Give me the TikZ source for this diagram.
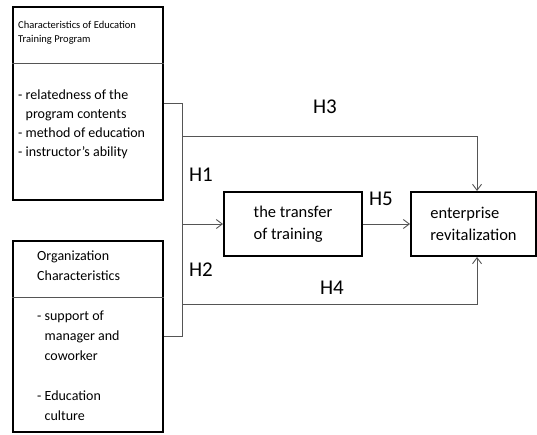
\documentclass[tikz,border=0pt]{standalone}
\usepackage{fontspec}
\setmainfont{Carlito}
\usetikzlibrary{arrows.meta,positioning,calc}
\definecolor{linegray}{RGB}{85,85,85}

\begin{document}
\begin{tikzpicture}[
    x=1pt, y=-1pt,
    panel/.style={rectangle, draw=black, line width=2pt, inner sep=0pt},
    stage/.style={rectangle, draw=black, line width=2pt, align=left,
                  font=\fontsize{16.5}{22}\selectfont},
    headtxt/.style={anchor=north west, inner sep=0pt, align=left},
    bodytxt/.style={anchor=north west, inner sep=0pt, align=left,
                    font=\fontsize{14}{19}\selectfont},
    hyp/.style={inner sep=0pt, font=\fontsize{21}{24}\selectfont},
    conn/.style={draw=linegray, line width=0.9pt},
    arr/.style={conn, -{Straight Barb[length=6pt,width=9pt]}}
]
\useasboundingbox (0,0) rectangle (537,434);

% Program panel
\node[panel, minimum width=150, minimum height=193] (prog) at (88,103.5) {};
\draw[conn, line width=0.8pt] (prog.west |- 0,63) -- (prog.east |- 0,63);
\node[headtxt, font=\fontsize{10.5}{14}\selectfont] (proghead) at (18,21)
    {Characteristics of Education\\Training Program};
\node[bodytxt] (progbody) at (18,90)
    {- relatedness of the\\\hphantom{- }program contents\\- method of education\\- instructor's ability};

% Organization panel
\node[panel, minimum width=150, minimum height=191] (org) at (88,336.5) {};
\draw[conn, line width=0.8pt] (org.west |- 0,297) -- (org.east |- 0,297);
\node[headtxt, font=\fontsize{14}{20}\selectfont] (orghead) at (37,251)
    {Organization\\Characteristics};
\node[bodytxt, font=\fontsize{14}{20}\selectfont] (orgbody) at (37,311)
    {- support of\\\hphantom{- }manager and\\\hphantom{- }coworker\\[20pt]- Education\\\hphantom{- }culture};

% Outcome boxes
\node[stage, minimum width=138, minimum height=64] (transfer) at (293,224) {the transfer\\of training};
\node[stage, minimum width=125, minimum height=64] (revital) at (473.5,224) {enterprise\\revitalization};

% Connectors
\coordinate (bus) at (182,136);
\coordinate (turn) at (477,0);
\coordinate (lowbus) at (182,304);
\draw[conn] (prog.east) -- (prog.east -| bus) -- (org.east -| bus) -- (org.east);
\draw[arr] (bus) -| (turn |- revital.north);
\draw[arr] (bus |- transfer.west) -- (transfer.west);
\draw[arr] (transfer.east) -- (revital.west);
\draw[arr] (lowbus) -| (turn |- revital.south);

% Hypotheses
\node[hyp] (h1) at (201,175) {H1};
\node[hyp] (h2) at (201,270) {H2};
\node[hyp] (h3) at (325,107) {H3};
\node[hyp] (h4) at (332,288) {H4};
\node[hyp] (h5) at (381,199) {H5};

\end{tikzpicture}
\end{document}
